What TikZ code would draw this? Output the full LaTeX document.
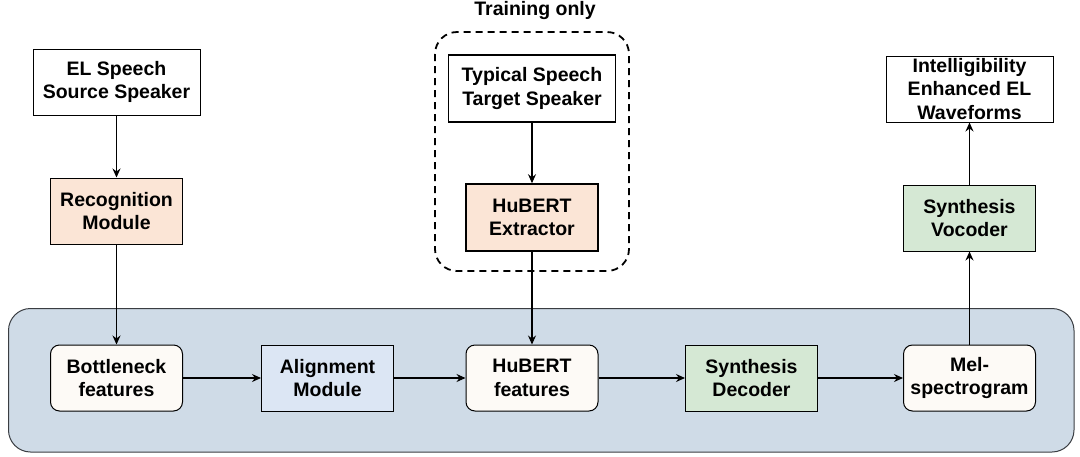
\documentclass[tikz,border=0pt]{standalone}
\usepackage{fontspec}
\setmainfont{Liberation Sans}
\usetikzlibrary{arrows.meta}

\definecolor{peach}{HTML}{FBE5D6}
\definecolor{sage}{HTML}{D5E8D4}
\definecolor{paleblue}{HTML}{DCE6F4}
\definecolor{panel}{HTML}{CFDBE7}
\definecolor{cream}{HTML}{FDFAF6}
\definecolor{edge}{HTML}{3A3D42}

\tikzset{
  lbl/.style={font=\fontsize{19.5}{23.5}\selectfont\bfseries, align=center, text=black},
  box/.style={lbl, draw=black, line width=1pt, inner sep=0pt,
    minimum width=132pt, minimum height=66pt},
  widebox/.style={box, fill=white, minimum width=167pt},
  thickbox/.style={line width=1.6pt},
  peachbox/.style={box, fill=peach},
  greenbox/.style={box, fill=sage},
  bluebox/.style={box, fill=paleblue},
  featbox/.style={box, fill=cream, rounded corners=9pt},
  flow/.style={draw=black, line width=1.1pt,
    -{Stealth[length=9pt, width=8pt, inset=3pt]}},
}

\begin{document}
\begin{tikzpicture}[x=1pt, y=-1pt]
  \useasboundingbox (0,0) rectangle (1080,456);

  % shared processing panel and the training-only group
  \draw[fill=panel, draw=edge, line width=1pt, rounded corners=22pt]
    (8.5,308.5) rectangle (1074,452);
  \draw[black, line width=1.8pt, dash pattern=on 7pt off 5pt, rounded corners=22pt]
    (435,32) rectangle (629,271);
  \node[lbl] (train) at (535,10) {Training only};

  % upper row
  \node[widebox] (src) at (116.5,82) {EL Speech\\Source Speaker};
  \node[peachbox] (rec) at (116.5,211) {Recognition\\Module};

  \node[widebox, thickbox, minimum height=67pt] (tgt) at (532,88.5) {Typical Speech\\Target Speaker};
  \node[peachbox, thickbox, minimum height=67pt] (hubx) at (532,217.5) {HuBERT\\Extractor};

  \node[widebox] (out) at (969.5,89) {Intelligibility\\Enhanced EL\\Waveforms};
  \node[greenbox] (voc) at (969.5,218) {Synthesis\\Vocoder};

  % lower row inside the panel
  \node[featbox] (bn) at (116.5,378) {Bottleneck\\features};
  \node[bluebox] (al) at (327.5,378) {Alignment\\Module};
  \node[featbox] (hf) at (532,378) {HuBERT\\features};
  \node[greenbox] (dec) at (751.5,378) {Synthesis\\Decoder};
  \node[featbox] (mel) at (969.5,378) {Mel-\\spectrogram};

  % connectors
  \draw[flow] (src) -- (rec);
  \draw[flow] (rec) -- (bn);
  \draw[flow] (tgt) -- (hubx);
  \draw[flow] (hubx) -- (hf);
  \draw[flow] (bn) -- (al);
  \draw[flow] (al) -- (hf);
  \draw[flow] (hf) -- (dec);
  \draw[flow] (dec) -- (mel);
  \draw[flow] (mel) -- (voc);
  \draw[flow] (voc) -- (out);
\end{tikzpicture}
\end{document}
